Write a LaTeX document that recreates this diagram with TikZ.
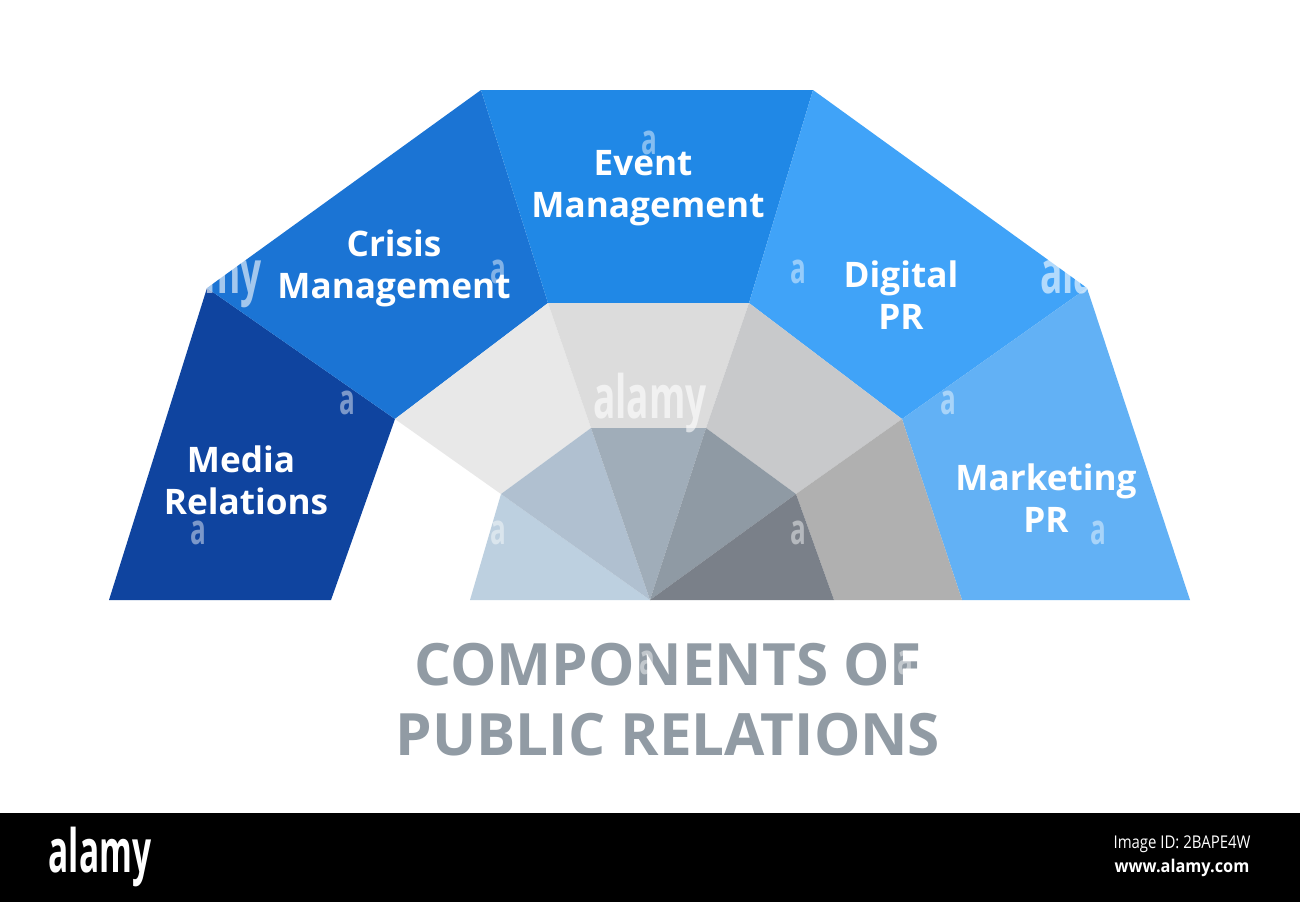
\documentclass[tikz,border=0pt]{standalone}
\usepackage{fontspec}
\setmainfont{Open Sans}
\definecolor{mediaC}{HTML}{0F449F}
\definecolor{crisisC}{HTML}{1B74D4}
\definecolor{eventC}{HTML}{2088E6}
\definecolor{digitalC}{HTML}{40A3F8}
\definecolor{marketC}{HTML}{62B1F5}
\definecolor{titleC}{HTML}{919BA4}
\definecolor{ringA}{HTML}{E8E8E8}
\definecolor{ringB}{HTML}{DCDCDC}
\definecolor{ringC}{HTML}{C8C9CB}
\definecolor{ringD}{HTML}{B0B0B0}
\definecolor{fanA}{HTML}{BDD0E0}
\definecolor{fanB}{HTML}{B0C0D0}
\definecolor{fanC}{HTML}{A0ADB9}
\definecolor{fanD}{HTML}{8F9AA4}
\definecolor{fanE}{HTML}{7A8089}
\newcommand{\narrowtxt}[1]{\scalebox{0.62}[1]{#1}}

\begin{document}
\begin{tikzpicture}[x=0.01cm, y=-0.01cm]
  \tikzstyle{blocktext}=[text=white,font=\fontsize{10}{12}\selectfont\bfseries,align=center]
  \tikzstyle{titletext}=[text=titleC,font=\fontsize{16.6}{19.9}\selectfont\bfseries,align=center]
  \tikzstyle{wmark}=[text=white,opacity=0.45,font=\fontsize{12}{12}\selectfont\bfseries,inner sep=0pt]
  \tikzstyle{bigmark}=[wmark,opacity=0.6,font=\fontsize{17}{17}\selectfont\bfseries]
  \useasboundingbox (0,0) rectangle (1300,902);
  \fill[white] (0,0) rectangle (1300,902);
  % outer corners
  \coordinate (P1) at (109,600);
  \coordinate (P2) at (207,288);
  \coordinate (P3) at (481,90);
  \coordinate (P4) at (813,90);
  \coordinate (P5) at (1087,288);
  \coordinate (P6) at (1190,600);
  % inner corners
  \coordinate (Q1) at (331,600);
  \coordinate (Q2) at (395,419);
  \coordinate (Q3) at (548,303);
  \coordinate (Q4) at (749,303);
  \coordinate (Q5) at (902,419);
  \coordinate (Q6) at (962,600);
  % grey ring
  \coordinate (R1) at (470,600);
  \coordinate (R2) at (501,494);
  \coordinate (R3) at (591,428);
  \coordinate (R4) at (706,428);
  \coordinate (R5) at (796,494);
  \coordinate (R6) at (834,600);
  \coordinate (O) at (650,600);

  \fill[mediaC] (P1) -- (P2) -- (Q2) -- (Q1) -- cycle;
  \fill[crisisC] (P2) -- (P3) -- (Q3) -- (Q2) -- cycle;
  \fill[eventC] (P3) -- (P4) -- (Q4) -- (Q3) -- cycle;
  \fill[digitalC] (P4) -- (P5) -- (Q5) -- (Q4) -- cycle;
  \fill[marketC] (P5) -- (P6) -- (Q6) -- (Q5) -- cycle;

  \fill[ringA] (Q2) -- (Q3) -- (R3) -- (R2) -- cycle;
  \fill[ringB] (Q3) -- (Q4) -- (R4) -- (R3) -- cycle;
  \fill[ringC] (Q4) -- (Q5) -- (R5) -- (R4) -- cycle;
  \fill[ringD] (Q5) -- (Q6) -- (R6) -- (R5) -- cycle;

  \fill[fanA] (R1) -- (R2) -- (O) -- cycle;
  \fill[fanB] (R2) -- (R3) -- (O) -- cycle;
  \fill[fanC] (R3) -- (R4) -- (O) -- cycle;
  \fill[fanD] (R4) -- (R5) -- (O) -- cycle;
  \fill[fanE] (R5) -- (R6) -- (O) -- cycle;

  \node[blocktext] (media) at (246,480) {Media\kern 0.1cm\\Relations};
  \node[blocktext] (crisis) at (394,268) {Crisis\\Management};
  \node[blocktext] (event) at (648,188) {Event\kern 0.1cm\\Management};
  \node[blocktext] (digital) at (901,295) {Digital\\PR};
  \node[blocktext] (market) at (1046,498) {Marketing\\PR};
  \node[titletext] (title) at (668,700) {COMPONENTS OF\\PUBLIC RELATIONS};

  % small marks
  \foreach \i/\px/\py in {1/198/533, 2/347/403, 3/498/272, 4/498/533, 5/649/143,
      6/798/272, 7/798/533, 8/948/403, 9/1098/533, 10/647/663, 11/905/663}
    \node[wmark] (mark\i) at (\px,\py) {\narrowtxt{a}};
  \node[bigmark] (markC) at (650,403) {\narrowtxt{alamy}};
  \node[bigmark] (markL) at (205,278) {\narrowtxt{alamy}};
  \node[bigmark] (markR) at (1097,278) {\narrowtxt{alamy}};

  % black strip
  \fill[black] (0,813) rectangle (1300,902);
  \node[text=white,font=\fontsize{17}{17}\selectfont\bfseries,inner sep=0pt] (logo) at (100,857) {\scalebox{0.56}[1]{alamy}};
  \node[text=white,font=\fontsize{5}{5}\selectfont,inner sep=0pt] (imgid) at (1182,844) {\scalebox{0.85}[1]{Image ID: 2BAPE4W}};
  \node[text=white,font=\fontsize{5}{5}\selectfont\bfseries,inner sep=0pt] (site) at (1182,868) {\scalebox{0.93}[1]{www.alamy.com}};
\end{tikzpicture}
\end{document}
